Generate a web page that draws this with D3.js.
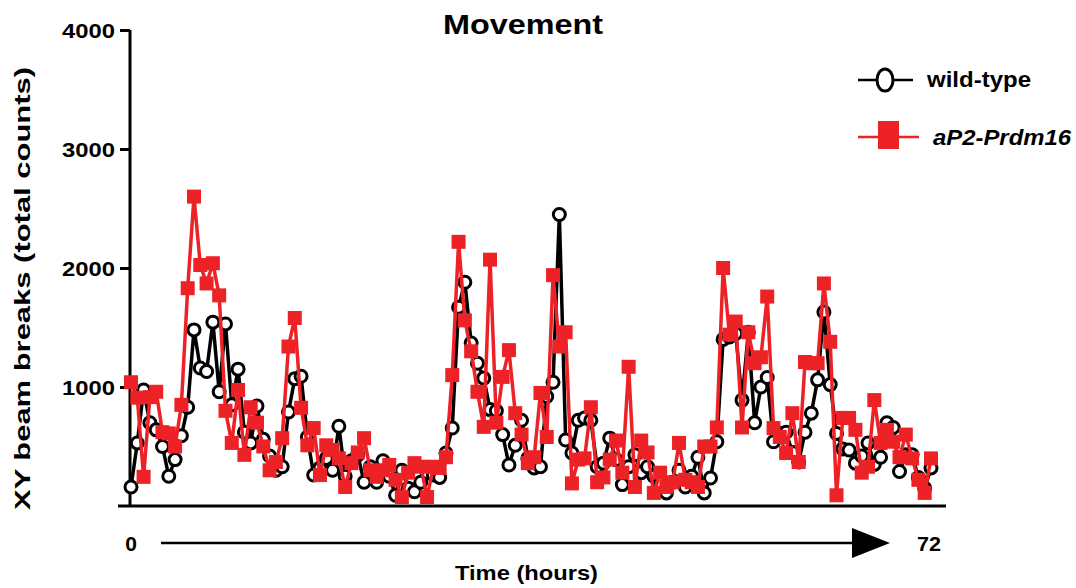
<!DOCTYPE html>
<html>
<head>
<meta charset="utf-8">
<script src="https://cdn.jsdelivr.net/npm/d3@7"></script>
<style>
  body { margin: 0; background: #fff; }
  svg { display: block; font-family: "Liberation Sans", Arial, sans-serif; }
</style>
</head>
<body>
<svg id="chart" width="1076" height="588"></svg>
<script>
const title = "Movement";
const yLabel = "XY beam breaks (total counts)";
const xLabel = "Time (hours)";
const seriesNames = ["wild-type", "aP2-Prdm16"];
const yTicks = [1000, 2000, 3000, 4000];
const timeLabels = ["0", "72"];

const wildType = [160,530,975,700,640,500,250,390,590,830,
1480,1160,1130,1545,960,1530,850,1150,620,530,
840,560,420,300,330,790,1070,1090,580,260,
320,400,300,670,250,380,430,200,330,200,
380,250,90,300,150,120,200,280,260,240,
445,655,1670,1880,1370,1200,1075,810,800,600,
345,510,720,400,320,330,920,1040,2450,555,
445,720,740,720,330,360,570,390,180,330,
430,280,330,250,200,110,200,300,160,250,
410,110,235,540,1400,1420,1450,890,1460,700,
1000,1080,540,610,620,450,370,620,780,1060,
1630,1020,610,480,470,360,420,530,350,410,
700,660,290,430,430,240,150,320];

const prdm16 = [1040,910,245,915,960,620,610,500,850,1830,
2600,2025,1870,2040,1770,800,530,975,430,830,
700,500,300,370,570,1340,1580,825,510,655,
260,510,470,400,160,360,450,570,300,245,
300,345,220,75,280,360,330,75,330,320,
410,1100,2220,1560,1300,960,665,2070,700,1085,
1310,780,600,360,410,950,580,1940,1340,1460,
190,390,400,830,200,240,390,550,280,1170,
160,550,450,110,280,160,200,530,220,200,
160,500,500,660,2000,1440,1550,660,1460,1200,
1250,1760,655,580,445,780,370,1210,1200,1200,
1870,1380,90,740,740,640,280,330,890,530,
640,540,410,600,400,220,110,400];

const RED = "#ec2227";
const svg = d3.select("#chart");

const x = d3.scaleLinear().domain([0, wildType.length - 1]).range([131, 931]);
const y = d3.scaleLinear().domain([0, 4000]).range([506, 30]);

function stretched(sel, len) {
  return sel.attr("textLength", len).attr("lengthAdjust", "spacingAndGlyphs");
}

// Title
stretched(svg.append("text").attr("x", 443).attr("y", 34)
  .attr("font-size", 27).attr("font-weight", "bold").text(title), 160);

// Y axis
const yAxis = svg.append("g").attr("transform", "translate(130,0)")
  .call(d3.axisLeft(y).tickValues(yTicks).tickFormat(d3.format("d"))
    .tickSize(10).tickPadding(6).tickSizeOuter(0));
yAxis.select(".domain").attr("stroke-width", 3).attr("d", `M0,${y(4000)}V${y(0)}`);
yAxis.selectAll(".tick line").attr("stroke-width", 3);
yAxis.selectAll(".tick text").attr("font-size", 20).attr("font-weight", "bold")
  .attr("fill", "#000").attr("font-family", "Liberation Sans, Arial, sans-serif")
  .attr("x", -15).attr("dy", "0.36em")
  .attr("textLength", 53).attr("lengthAdjust", "spacingAndGlyphs");

// X axis line
svg.append("line").attr("x1", 118).attr("x2", 946).attr("y1", y(0)).attr("y2", y(0))
  .attr("stroke", "#000").attr("stroke-width", 3);

// Y label
stretched(svg.append("text").attr("transform", "translate(30,510) rotate(-90)")
  .attr("font-size", 22).attr("font-weight", "bold").text(yLabel), 443);

// Time arrow
svg.append("line").attr("x1", 161).attr("x2", 858).attr("y1", 543).attr("y2", 543)
  .attr("stroke", "#000").attr("stroke-width", 2.5);
svg.append("path").attr("d", "M852,528 L890,543 L852,558 Z").attr("fill", "#000");
svg.append("text").attr("x", 131).attr("y", 551).attr("text-anchor", "middle")
  .attr("font-size", 21).attr("font-weight", "bold").text(timeLabels[0]);
stretched(svg.append("text").attr("x", 917).attr("y", 551)
  .attr("font-size", 21).attr("font-weight", "bold").text(timeLabels[1]), 24);
stretched(svg.append("text").attr("x", 455).attr("y", 580)
  .attr("font-size", 21).attr("font-weight", "bold").text(xLabel), 143);

// Lines
const line = d3.line().x((d, i) => x(i)).y(d => y(d));
svg.append("path").datum(wildType).attr("d", line).attr("fill", "none")
  .attr("stroke", "#000").attr("stroke-width", 3.5).attr("stroke-linejoin", "miter");
svg.append("g").selectAll("circle").data(wildType).join("circle")
  .attr("cx", (d, i) => x(i)).attr("cy", d => y(d)).attr("r", 6)
  .attr("fill", "#fff").attr("stroke", "#000").attr("stroke-width", 3);

svg.append("path").datum(prdm16).attr("d", line).attr("fill", "none")
  .attr("stroke", RED).attr("stroke-width", 3.5).attr("stroke-linejoin", "miter");
svg.append("g").selectAll("rect").data(prdm16).join("rect")
  .attr("x", (d, i) => x(i) - 7).attr("y", d => y(d) - 7).attr("width", 14).attr("height", 14)
  .attr("fill", RED);

// Legend
svg.append("line").attr("x1", 858).attr("x2", 913).attr("y1", 80).attr("y2", 80)
  .attr("stroke", "#000").attr("stroke-width", 2.5);
svg.append("ellipse").attr("cx", 885).attr("cy", 80).attr("rx", 8).attr("ry", 11)
  .attr("fill", "#fff").attr("stroke", "#000").attr("stroke-width", 3);
stretched(svg.append("text").attr("x", 927).attr("y", 87).attr("font-size", 22)
  .attr("font-weight", "bold").text(seriesNames[0]), 104);

svg.append("line").attr("x1", 858).attr("x2", 919).attr("y1", 137).attr("y2", 137)
  .attr("stroke", RED).attr("stroke-width", 2.5);
svg.append("rect").attr("x", 878).attr("y", 121).attr("width", 21).attr("height", 28)
  .attr("fill", RED);
stretched(svg.append("text").attr("x", 933).attr("y", 145).attr("font-size", 22)
  .attr("font-weight", "bold").attr("font-style", "italic").text(seriesNames[1]), 138);
</script>
</body>
</html>
